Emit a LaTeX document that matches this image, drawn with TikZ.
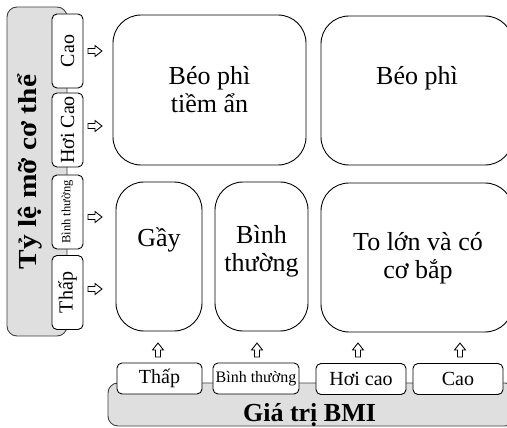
\documentclass[tikz,border=0pt]{standalone}
\usepackage{fontspec}
\setmainfont{Liberation Serif}
\begin{document}
\begin{tikzpicture}[x=1pt,y=-1pt,
  panel/.style={draw=black!75, fill=gray!25, rounded corners=10pt, line width=0.9pt},
  lbl/.style={draw, fill=white, rounded corners=5pt, line width=0.9pt, inner sep=0pt,
    minimum width=74pt, minimum height=31pt, rotate=90, font=\fontsize{20}{22}\selectfont},
  blbl/.style={draw, fill=white, rounded corners=5pt, line width=0.9pt, inner sep=0pt,
    minimum height=31pt, font=\fontsize{20}{22}\selectfont},
  bigbox/.style={draw, fill=white, rounded corners=28pt, line width=0.9pt, inner sep=0pt},
  bigtxt/.style={font=\fontsize{26}{28}\selectfont, align=center, anchor=base, inner sep=0pt},
  title/.style={font=\bfseries\fontsize{26}{28}\selectfont, anchor=base, inner sep=0pt},
  hollowarrow/.pic={\draw[fill=white, line width=0.85pt, line join=miter]
    (-7,-2.5) -- (0,-2.5) -- (0,-5.5) -- (7,0) -- (0,5.5) -- (0,2.5) -- (-7,2.5) -- cycle;},
]
\useasboundingbox (0,0) rectangle (507,428);
\clip (0,0) rectangle (507,428);

% panels
\node[panel, minimum width=60pt, minimum height=329pt] (lpanel) at (37,171.5) {};
\node[panel, minimum width=407pt, minimum height=43pt] (bpanel) at (311.5,404.5) {};
\node[title, rotate=90] (ltitle) at (36,172) {\scalebox{1.13}[1]{Tỷ lệ mỡ cơ thể}};
\node[title] (btitle) at (309.5,421) {Giá trị BMI};

% left labels
\node[lbl] (lcao) at (67.5,51) {Cao};
\node[lbl] (lhoicao) at (67.5,130) {Hơi Cao};
\node[lbl, font=\fontsize{12.5}{14}\selectfont] (lbinh) at (67.5,212) {Bình thường};
\node[lbl] (lthap) at (67.5,292.5) {Thấp};

% bottom labels
\node[blbl, minimum width=85pt] (bthap) at (159.5,378.5) {Thấp};
\node[blbl, minimum width=86pt, font=\fontsize{16}{18}\selectfont] (bbinh) at (256,378.5) {Bình thường};
\node[blbl, minimum width=90pt] (bhoicao) at (361,379) {Hơi cao};
\node[blbl, minimum width=90pt] (bcao) at (458,379) {Cao};

% big boxes
\node[bigbox, minimum width=193pt, minimum height=150pt] (bptiem) at (209.5,90) {};
\node[bigbox, minimum width=192pt, minimum height=149pt] (bp) at (417,90.5) {};
\node[bigbox, minimum width=86pt, minimum height=149pt] (gay) at (159,256.5) {};
\node[bigbox, minimum width=93pt, minimum height=149pt] (binh) at (261.5,256.5) {};
\node[bigbox, minimum width=192pt, minimum height=149pt] (tolon) at (417,257.5) {};

\node[bigtxt] (tbptiem) at (209.5,113) {Béo phì\\tiềm ẩn};
\node[bigtxt] (tbp) at (417,85) {Béo phì};
\node[bigtxt] (tgay) at (159,247) {Gầy};
\node[bigtxt] (tbinh) at (261.5,271) {Bình\\thường};
\node[bigtxt] (ttolon) at (418,278) {To lớn và có\\cơ bắp};

% arrows
\pic (a1) at (95,51) {hollowarrow};
\pic (a2) at (95,126) {hollowarrow};
\pic (a3) at (95,217) {hollowarrow};
\pic (a4) at (95,289) {hollowarrow};
\pic[rotate=90] (u1) at (158,350) {hollowarrow};
\pic[rotate=90] (u2) at (257,350) {hollowarrow};
\pic[rotate=90] (u3) at (358,350) {hollowarrow};
\pic[rotate=90] (u4) at (460,350) {hollowarrow};
\end{tikzpicture}
\end{document}
